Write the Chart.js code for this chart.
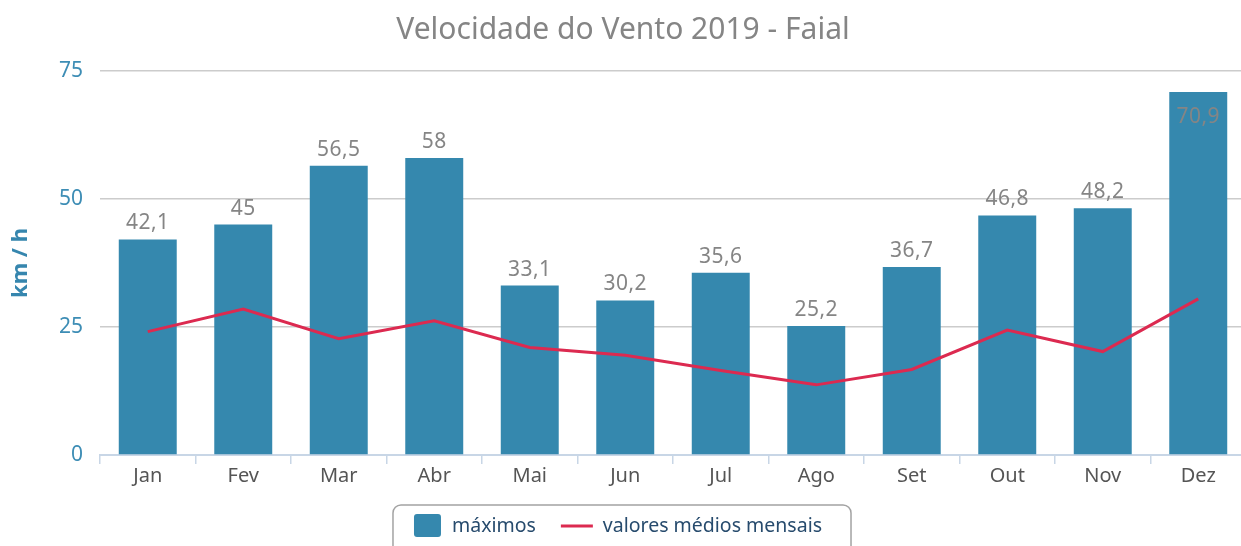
<!DOCTYPE html>
<html>
<head>
<meta charset="utf-8">
<script src="https://cdn.jsdelivr.net/npm/chart.js@4.4.1/dist/chart.umd.min.js"></script>
<style>
html,body{margin:0;padding:0;background:#fff;overflow:hidden;width:1241px;height:546px;}
#wrap{width:1246px;height:546px;}
</style>
</head>
<body>
<div id="wrap"><canvas id="c" width="1246" height="546"></canvas></div>
<script>
const categories = ['Jan','Fev','Mar','Abr','Mai','Jun','Jul','Ago','Set','Out','Nov','Dez'];
const maximos = [42.1, 45, 56.5, 58, 33.1, 30.2, 35.6, 25.2, 36.7, 46.8, 48.2, 70.9];
const mediosMensais = [24.1, 28.5, 22.7, 26.2, 21.0, 19.5, 16.5, 13.7, 16.7, 24.4, 20.2, 30.5];
const yTicks = [0, 25, 50, 75];
const seriesNames = ['máximos', 'valores médios mensais'];
const titleText = 'Velocidade do Vento 2019 - Faial';
const yTitle = 'km / h';

const FONT = "'Noto Sans', 'DejaVu Sans', sans-serif";
const BAR_COLOR = '#3588ae';
const LINE_COLOR = '#dc2a50';

const dataLabels = {
  id: 'dataLabels',
  afterDatasetsDraw(chart) {
    const ctx = chart.ctx;
    const meta = chart.getDatasetMeta(0);
    ctx.save();
    ctx.font = "21px " + FONT;
    ctx.fillStyle = '#858585';
    ctx.textAlign = 'center';
    ctx.textBaseline = 'alphabetic';
    if ('letterSpacing' in ctx) ctx.letterSpacing = '0.5px';
    meta.data.forEach((bar, i) => {
      const txt = String(maximos[i]).replace('.', ',');
      let y = bar.y - 10;
      if (y - 16 < chart.chartArea.top) y = bar.y + 31;
      ctx.fillText(txt, bar.x, y);
    });
    ctx.restore();
  }
};

const legendBox = {
  id: 'legendBox',
  afterDraw(chart) {
    const ctx = chart.ctx;
    ctx.save();
    ctx.font = "19.5px " + FONT;
    const w1 = ctx.measureText(seriesNames[0]).width;
    const w2 = ctx.measureText(seriesNames[1]).width;
    const total = 21 + 27 + 11 + w1 + 25 + 32 + 10 + w2 + 29;
    const cx = 622;
    const left = cx - total / 2;
    const top = 505;
    ctx.strokeStyle = '#a3a3a3';
    ctx.lineWidth = 1.5;
    ctx.beginPath();
    ctx.roundRect(left, top, total, 70, 8);
    ctx.stroke();
    const midY = 526;
    let x = left + 21;
    ctx.fillStyle = BAR_COLOR;
    ctx.beginPath();
    ctx.roundRect(x, 514, 27, 23, 3);
    ctx.fill();
    x += 27 + 11;
    ctx.fillStyle = '#274b6d';
    ctx.textBaseline = 'middle';
    ctx.textAlign = 'left';
    ctx.fillText(seriesNames[0], x, midY);
    x += w1 + 25;
    ctx.strokeStyle = LINE_COLOR;
    ctx.lineWidth = 3;
    ctx.beginPath();
    ctx.moveTo(x, midY);
    ctx.lineTo(x + 32, midY);
    ctx.stroke();
    x += 32 + 10;
    ctx.fillText(seriesNames[1], x, midY);
    ctx.restore();
  }
};

new Chart(document.getElementById('c'), {
  data: {
    labels: categories,
    datasets: [
      {
        type: 'bar',
        label: seriesNames[0],
        data: maximos,
        backgroundColor: BAR_COLOR,
        categoryPercentage: 1,
        barPercentage: 0.607,
        order: 1
      },
      {
        type: 'line',
        label: seriesNames[1],
        data: mediosMensais,
        borderColor: LINE_COLOR,
        backgroundColor: LINE_COLOR,
        borderWidth: 3,
        pointRadius: 0,
        tension: 0,
        order: 0
      }
    ]
  },
  options: {
    responsive: false,
    animation: false,
    devicePixelRatio: 1,
    layout: { padding: { left: 0, right: 0, top: 0, bottom: 51 } },
    plugins: {
      legend: { display: false },
      tooltip: { enabled: false },
      title: {
        display: true,
        text: titleText,
        color: '#858585',
        font: { family: FONT, size: 30, weight: 'normal', lineHeight: 1.2 },
        padding: { top: 12, bottom: 23 }
      }
    },
    scales: {
      x: {
        offset: true,
        grid: {
          offset: true,
          drawOnChartArea: false,
          drawTicks: true,
          tickLength: 9,
          color: '#c8d6e6',
          lineWidth: 1.5
        },
        border: { display: true, color: '#c8d6e6', width: 2 },
        ticks: {
          color: '#555555',
          font: { family: FONT, size: 20 },
          padding: 0,
          maxRotation: 0
        },
        afterFit(scale) { scale.height = 40; }
      },
      y: {
        min: 0,
        max: 75,
        afterBuildTicks(scale) { scale.ticks = yTicks.map(v => ({ value: v })); },
        grid: {
          drawTicks: false,
          color: (c) => (c.tick && c.tick.value === 0) ? 'rgba(0,0,0,0)' : '#cccccc',
          lineWidth: 1.5
        },
        border: { display: false },
        ticks: {
          color: '#3d8db5',
          font: { family: FONT, size: 21 },
          padding: 17
        },
        title: {
          display: true,
          text: yTitle,
          color: '#3686ae',
          font: { family: FONT, size: 22, weight: 'bold' },
          padding: { top: 8, bottom: 0 }
        },
        afterFit(scale) { scale.width = 100; }
      }
    }
  },
  plugins: [dataLabels, legendBox]
});
</script>
</body>
</html>
